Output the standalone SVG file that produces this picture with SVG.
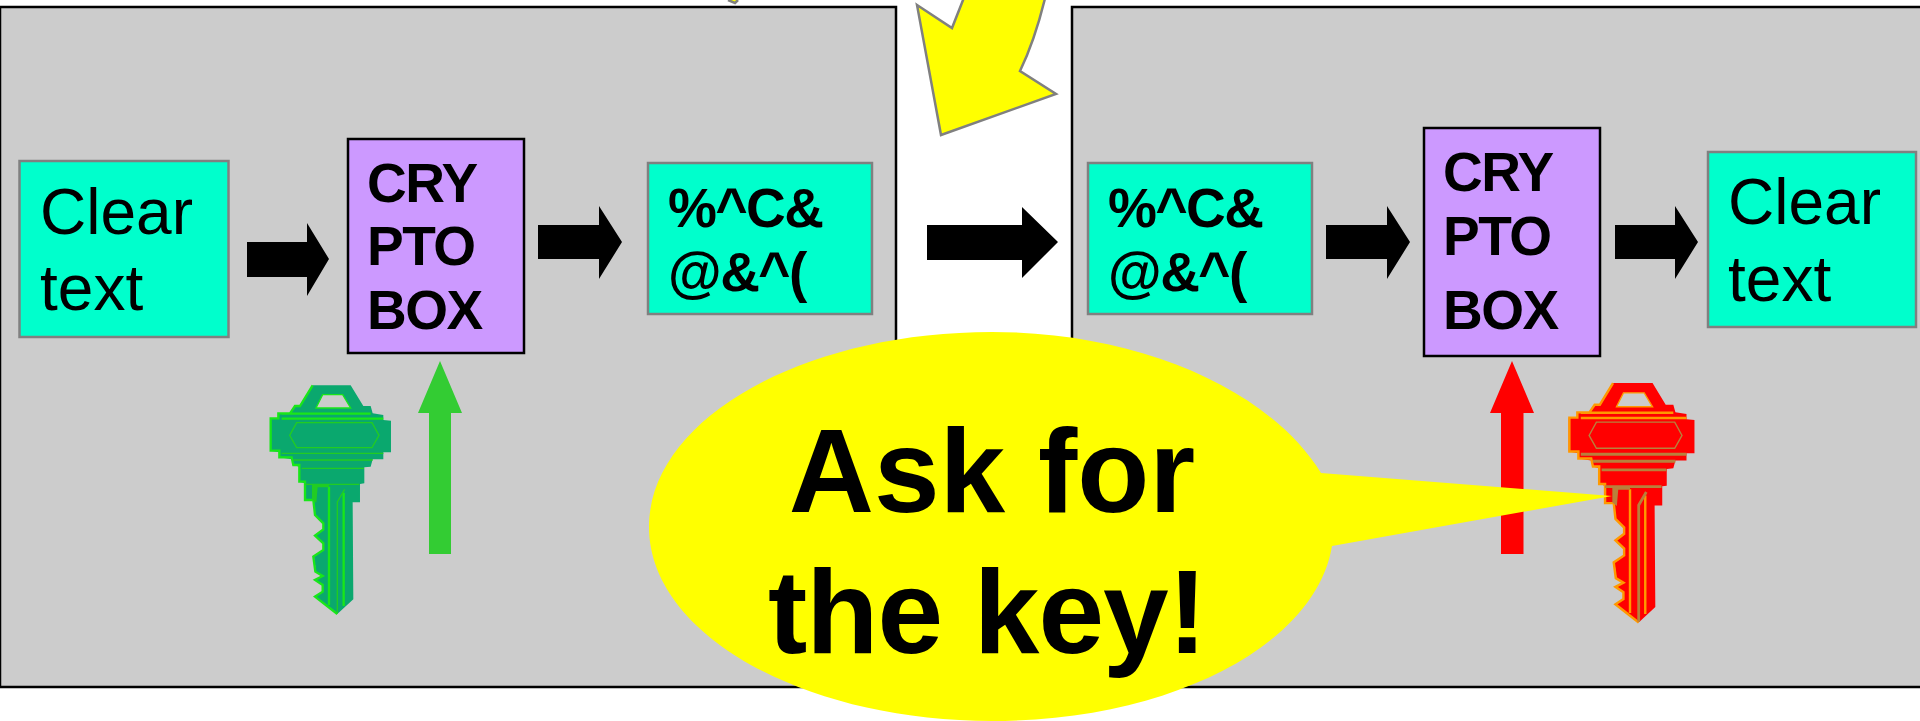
<svg xmlns="http://www.w3.org/2000/svg" width="1920" height="721" viewBox="0 0 1920 721">
<style>
.panel{fill:#cccccc;stroke:#000;stroke-width:2.5}
.box{fill:#00ffcc;stroke:#808080;stroke-width:2.5}
.crypto{fill:#cc99ff;stroke:#000;stroke-width:2.5}
.arr{fill:#000}
text{font-family:"Liberation Sans",Arial,sans-serif;fill:#000}
.t{font-size:64px}
.b{font-size:55px;font-weight:bold;letter-spacing:-1.500px}
.big{font-size:118px;font-weight:bold;text-anchor:middle}
.kb{fill:var(--b);stroke:none}
.kh{fill:none;stroke:var(--h);stroke-width:7}
.km{fill:none;stroke:var(--m);stroke-width:var(--w)}
.kl{fill:none;stroke:var(--m);stroke-width:4}
.kf{fill:var(--m);stroke:none}
.hole{fill:#cccccc;stroke:var(--h);stroke-width:4}
</style>
<defs>
<g id="key">
<path class="kb" d="M218 46H332L370 108H392L398 130L430 135V150L453 152V247H430V268H398L392 290L373 292V340L360 342V397H338L340 688L292 732L225 680L248 665V645L225 630L250 618L228 605L222 560L252 540V520L225 497L252 478V460L225 435L220 392L195 390V340L178 335V290L160 285L155 268L118 262V247L90 242V147L115 145V130L150 130L165 110L180 108Z"/>
<path class="hole" d="M248 74H308L332 114H228Z"/>
<path class="kh" d="M218 46L180 108H165L150 130H115V145H92V242H118V262H155L160 285H178V335H195V390H220L225 435L250 460V478L225 497L250 520V540L220 560L226 605L248 618L225 630L248 645V665L225 680L292 732M125 131H392M125 146H430M267 350V705M311 368V708"/>
<path class="km" d="M125 250H430M160 270H398M185 295H372M195 343H358M292 730V396L314 358"/>
<path class="kf" d="M216 345H267V352H233L229 398L216 388Z"/>
<path class="kl" d="M170 158H396L417 196L396 233H170L149 196Z"/>
</g>
</defs>
<rect x="0" y="0" width="1920" height="721" fill="#fff"/>
<g id="panel-left"><rect class="panel" x="0" y="7" width="896" height="680"/></g>
<g id="panel-right"><rect class="panel" x="1072" y="7" width="860" height="680"/></g>
<g id="curved-arrow">
<path d="M917 5L952 28L967 -10H1047Q1036 38 1020 71L1056 94L941 135Z" fill="#ffff00" stroke="#808080" stroke-width="2.500"/>
<path d="M728 0L735 3L738 0" fill="#ffff00" stroke="#808080" stroke-width="2.500"/>
</g>
<g id="connectors">
<path class="arr" d="M247 242H307V223L329 259L307 296V277H247Z"/>
<path class="arr" d="M538 225H599V206L622 242L599 279V259H538Z"/>
<path class="arr" d="M927 225H1022V207L1058 242L1022 278V260H927Z"/>
<path class="arr" d="M1326 225H1387V206L1410 242L1387 279V259H1326Z"/>
<path class="arr" d="M1615 225H1675V206L1698 242L1675 279V259H1615Z"/>
<path d="M429 554V413H418L440 361L462 413H451V554Z" fill="#33cc33"/>
<path d="M1501 554V413H1490L1512 361L1534 413H1523.500V554Z" fill="#ff0000"/>
</g>
<g id="clear-left"><rect class="box" x="19.500" y="161" width="209" height="176"/><text class="t" x="40" y="234">Clear</text><text class="t" x="40" y="310">text</text></g>
<g id="crypto-left"><rect class="crypto" x="348" y="139" width="176" height="214"/><text class="b" x="367" y="202">CRY</text><text class="b" x="367" y="265">PTO</text><text class="b" x="367" y="329">BOX</text></g>
<g id="cipher-left"><rect class="box" x="648" y="163" width="224" height="151"/><text class="b" x="668" y="227">%^C&amp;</text><text class="b" x="668" y="291">@&amp;^(</text></g>
<g id="cipher-right"><rect class="box" x="1088" y="163" width="224" height="151"/><text class="b" x="1108" y="227">%^C&amp;</text><text class="b" x="1108" y="291">@&amp;^(</text></g>
<g id="crypto-right"><rect class="crypto" x="1424" y="128" width="176" height="228"/><text class="b" x="1443" y="191">CRY</text><text class="b" x="1443" y="255">PTO</text><text class="b" x="1443" y="329">BOX</text></g>
<g id="clear-right"><rect class="box" x="1708" y="152" width="208" height="175"/><text class="t" x="1728" y="224">Clear</text><text class="t" x="1728" y="301">text</text></g>
<g id="key-green" style="--b:#0aa86e;--h:#19e619;--m:#22cc22;--w:4"><use href="#key" transform="translate(240 370) scale(.3333)"/></g>
<g id="key-red" style="--b:#ff0000;--h:#ff9900;--m:#b8803c;--w:8"><use href="#key" transform="translate(1537.500 367) scale(.3465 .3490)"/></g>
<g id="callout">
<path d="M1321 473C1270 390 1140 332 992 332C803 332 649 419 649 527C649 634 803 721 992 721C1170 721 1316 645 1332 546L1612 496Z" fill="#ffff00"/>
<text class="big" x="992" y="512">Ask for</text>
<text class="big" x="987" y="653" letter-spacing="-1">the key!</text>
</g>
</svg>
